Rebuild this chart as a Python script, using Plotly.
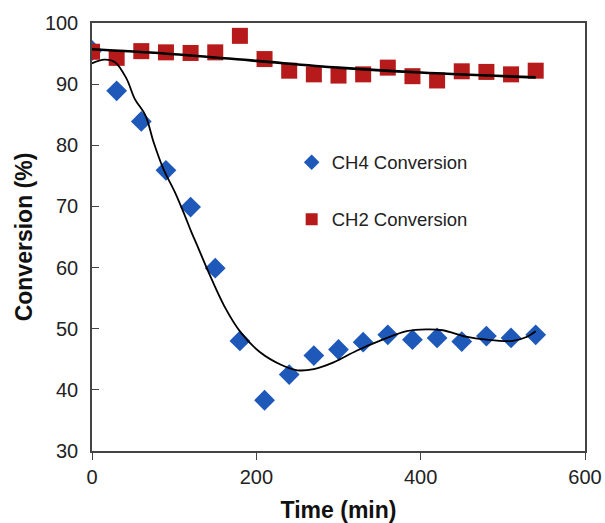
import plotly.graph_objects as go

# Measured data
time_min = [0, 30, 60, 90, 120, 150, 180, 210, 240, 270, 300, 330, 360, 390, 420, 450, 480, 510, 540]
ch4_conv = [95.5, 88.9, 83.9, 75.9, 69.9, 59.9, 48.0, 38.3, 42.5, 45.6, 46.6, 47.8, 49.0, 48.2, 48.5, 47.9, 48.8, 48.5, 49.0]
ch2_conv = [95.3, 94.3, 95.4, 95.2, 95.1, 95.2, 97.9, 94.1, 92.2, 91.6, 91.4, 91.6, 92.7, 91.3, 90.6, 92.1, 92.0, 91.6, 92.2]

# Fitted trend curves
ch4_fit_t = [0, 15, 28, 42, 52, 65, 75, 87, 101, 113, 121, 129, 141, 161, 181, 205, 230, 250, 270, 294, 322, 350, 383, 407, 427, 455, 480, 512, 528, 540]
ch4_fit_v = [93.4, 94.0, 93.6, 90.9, 87.6, 84.9, 80.5, 76.1, 72.3, 68.5, 65.8, 63.3, 59.5, 53.7, 49.4, 46.1, 44.1, 43.2, 43.4, 44.5, 46.4, 48.0, 49.6, 49.9, 49.75, 48.7, 48.2, 48.0, 48.6, 49.6]
ch2_fit_t = [0, 100, 200, 300, 400, 540]
ch2_fit_v = [95.7, 94.9, 93.8, 92.7, 91.9, 91.1]

BLUE = "rgb(30,88,184)"
RED = "rgb(182,26,26)"

fig = go.Figure()
fig.add_trace(go.Scatter(
    x=time_min, y=ch4_conv, mode="markers", name="CH4 Conversion",
    marker=dict(symbol="diamond", size=16, color=BLUE), legendgroup="a"))
fig.add_trace(go.Scatter(
    x=time_min, y=ch2_conv, mode="markers", name="CH2 Conversion",
    marker=dict(symbol="square", size=16, color=RED), legendgroup="b"))
fig.add_trace(go.Scatter(
    x=ch4_fit_t, y=ch4_fit_v, mode="lines", line=dict(color="black", width=1.8, shape="spline"),
    showlegend=False, hoverinfo="skip"))
fig.add_trace(go.Scatter(
    x=ch2_fit_t, y=ch2_fit_v, mode="lines", line=dict(color="black", width=2.6, shape="spline"),
    showlegend=False, hoverinfo="skip"))

FONT = "Liberation Sans, Arial, sans-serif"
axis_font = dict(family=FONT, size=20, color="#222")
fig.update_layout(
    width=605, height=523,
    margin=dict(l=92, r=20, t=23, b=72),
    paper_bgcolor="white", plot_bgcolor="white",
    font=dict(family=FONT, color="#222"),
    showlegend=True,
    legend=dict(x=0.405, y=0.718, xanchor="left", yanchor="top",
                font=dict(size=18.5, color="#222"), tracegroupgap=30,
                bgcolor="rgba(0,0,0,0)", itemsizing="constant"),
    xaxis=dict(range=[0, 600], tickvals=[0, 200, 400, 600], ticks="outside", ticklen=7,
               showline=True, linecolor="#444", linewidth=1.5, mirror=True, showgrid=False,
               zeroline=False, tickfont=axis_font, tickcolor="#444", ticklabelstandoff=0,
               automargin=False,
               title=dict(text="<b>Time (min)</b>", font=dict(family=FONT, size=23, color="#111"), standoff=20)),
    yaxis=dict(range=[30, 100], tickvals=[30, 40, 50, 60, 70, 80, 90, 100], ticks="inside", ticklen=7,
               showline=True, linecolor="#444", linewidth=1.5, mirror=True, showgrid=False,
               zeroline=False, tickfont=axis_font, tickcolor="#444", ticklabelstandoff=8,
               automargin=False,
               title=dict(text="<b>Conversion (%)</b>", font=dict(family=FONT, size=23, color="#111"), standoff=6)),
)

fig.write_html("out.html")
